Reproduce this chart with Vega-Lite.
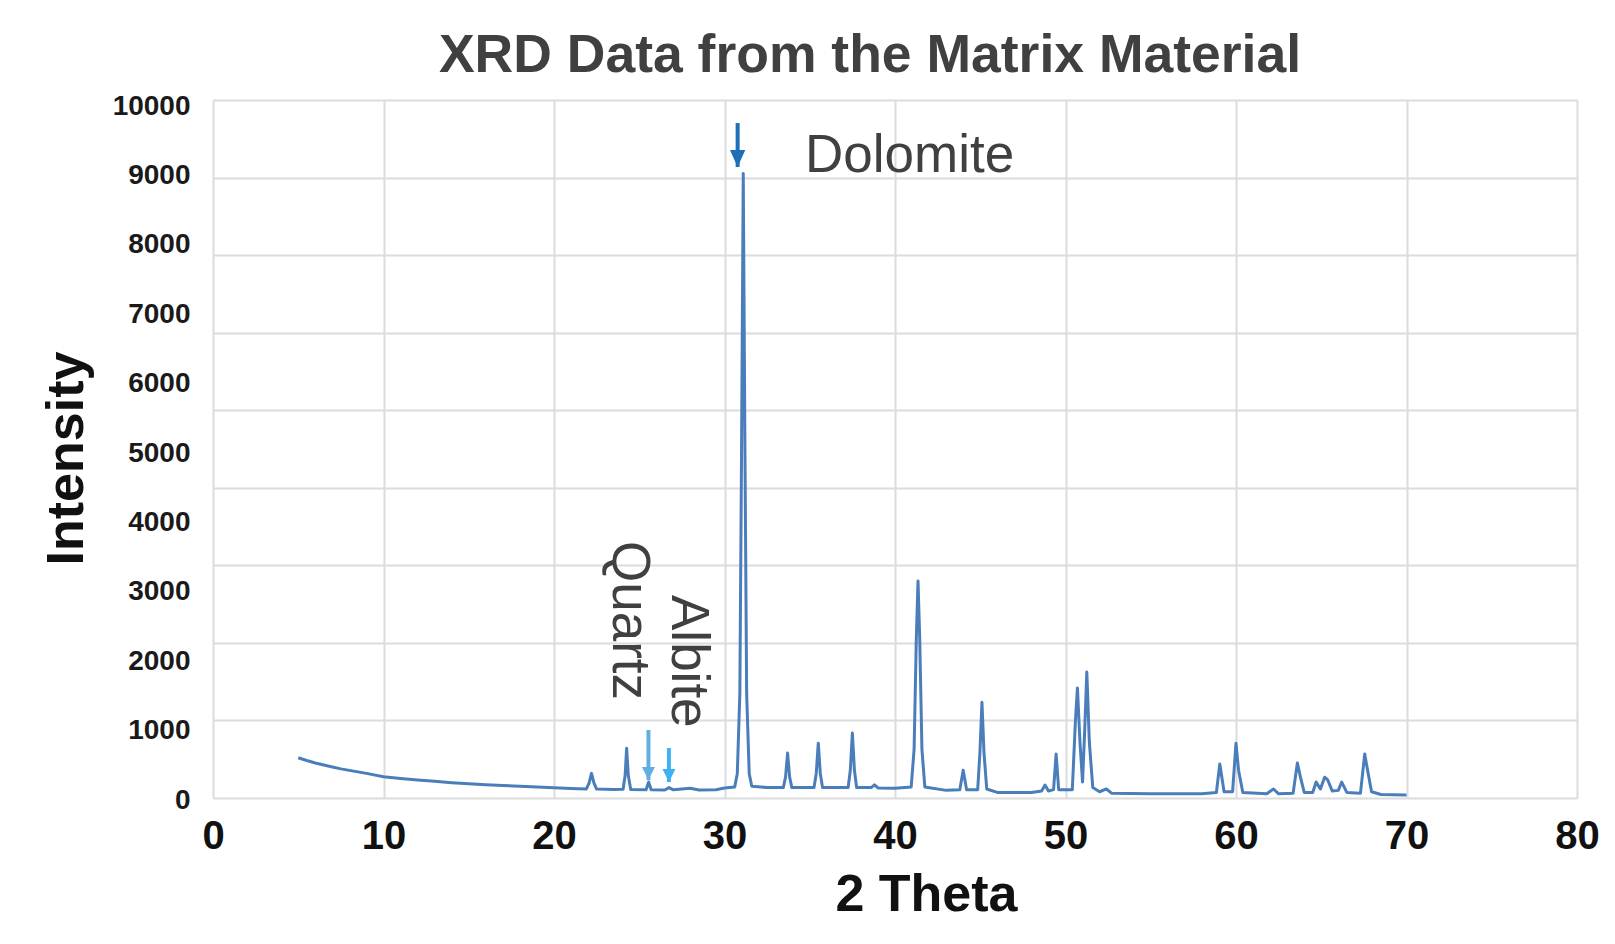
{
  "$schema": "https://vega.github.io/schema/vega-lite/v6.json",
  "width": 1364,
  "height": 698,
  "autosize": {"type": "none"},
  "padding": {"left": 213, "top": 100, "right": 38, "bottom": 146},
  "background": "white",
  "config": {"font": "Liberation Sans", "view": {"stroke": null}},
  "title": {
    "text": "XRD Data from the Matrix Material",
    "fontSize": 53.5,
    "fontWeight": "bold",
    "color": "#404040",
    "anchor": "middle",
    "frame": "group",
    "dx": -25,
    "baseline": "alphabetic",
    "offset": -33
  },
  "datasets": {
    "xrd": [
      {"theta": 5.0, "intensity": 580}, {"theta": 5.5, "intensity": 540}, {"theta": 6.0, "intensity": 505},
      {"theta": 6.5, "intensity": 475}, {"theta": 7.0, "intensity": 447}, {"theta": 7.5, "intensity": 420},
      {"theta": 8.0, "intensity": 398}, {"theta": 9.0, "intensity": 355}, {"theta": 10.0, "intensity": 307},
      {"theta": 11.0, "intensity": 280}, {"theta": 12.0, "intensity": 258}, {"theta": 13.0, "intensity": 240},
      {"theta": 14.0, "intensity": 220}, {"theta": 15.0, "intensity": 205}, {"theta": 16.0, "intensity": 192},
      {"theta": 17.0, "intensity": 180}, {"theta": 18.0, "intensity": 170}, {"theta": 19.0, "intensity": 158},
      {"theta": 20.0, "intensity": 148}, {"theta": 21.0, "intensity": 138}, {"theta": 21.9, "intensity": 130},
      {"theta": 22.05, "intensity": 210}, {"theta": 22.2, "intensity": 356}, {"theta": 22.35, "intensity": 210},
      {"theta": 22.5, "intensity": 128}, {"theta": 23.5, "intensity": 122}, {"theta": 24.05, "intensity": 125},
      {"theta": 24.17, "intensity": 320}, {"theta": 24.26, "intensity": 716}, {"theta": 24.36, "intensity": 320},
      {"theta": 24.5, "intensity": 122}, {"theta": 25.4, "intensity": 118}, {"theta": 25.55, "intensity": 230},
      {"theta": 25.7, "intensity": 118}, {"theta": 26.5, "intensity": 115}, {"theta": 26.75, "intensity": 150},
      {"theta": 27.0, "intensity": 118}, {"theta": 28.0, "intensity": 140}, {"theta": 28.5, "intensity": 115},
      {"theta": 29.5, "intensity": 120}, {"theta": 30.0, "intensity": 144}, {"theta": 30.6, "intensity": 160},
      {"theta": 30.75, "intensity": 350}, {"theta": 30.9, "intensity": 1500}, {"theta": 31.0, "intensity": 5000},
      {"theta": 31.1, "intensity": 9000}, {"theta": 31.2, "intensity": 5000}, {"theta": 31.3, "intensity": 1500},
      {"theta": 31.45, "intensity": 350}, {"theta": 31.6, "intensity": 170}, {"theta": 32.5, "intensity": 150},
      {"theta": 33.45, "intensity": 150}, {"theta": 33.58, "intensity": 300}, {"theta": 33.7, "intensity": 648},
      {"theta": 33.82, "intensity": 300}, {"theta": 33.95, "intensity": 150}, {"theta": 35.25, "intensity": 150},
      {"theta": 35.38, "intensity": 350}, {"theta": 35.5, "intensity": 790}, {"theta": 35.62, "intensity": 350},
      {"theta": 35.75, "intensity": 150}, {"theta": 37.25, "intensity": 150}, {"theta": 37.38, "intensity": 400},
      {"theta": 37.5, "intensity": 935}, {"theta": 37.62, "intensity": 400}, {"theta": 37.75, "intensity": 150},
      {"theta": 38.6, "intensity": 150}, {"theta": 38.8, "intensity": 190}, {"theta": 39.0, "intensity": 145},
      {"theta": 40.0, "intensity": 140}, {"theta": 40.95, "intensity": 160}, {"theta": 41.12, "intensity": 700},
      {"theta": 41.25, "intensity": 2300}, {"theta": 41.35, "intensity": 3127}, {"theta": 41.45, "intensity": 2300},
      {"theta": 41.58, "intensity": 700}, {"theta": 41.75, "intensity": 160}, {"theta": 43.0, "intensity": 110},
      {"theta": 43.8, "intensity": 120}, {"theta": 44.0, "intensity": 400}, {"theta": 44.2, "intensity": 120},
      {"theta": 44.85, "intensity": 120}, {"theta": 44.98, "intensity": 650}, {"theta": 45.1, "intensity": 1380},
      {"theta": 45.22, "intensity": 650}, {"theta": 45.38, "intensity": 130}, {"theta": 46.0, "intensity": 80},
      {"theta": 48.0, "intensity": 80}, {"theta": 48.6, "intensity": 100}, {"theta": 48.8, "intensity": 187},
      {"theta": 49.0, "intensity": 100}, {"theta": 49.3, "intensity": 120}, {"theta": 49.45, "intensity": 634},
      {"theta": 49.6, "intensity": 120}, {"theta": 50.4, "intensity": 120}, {"theta": 50.58, "intensity": 1100},
      {"theta": 50.7, "intensity": 1585}, {"theta": 50.85, "intensity": 800}, {"theta": 51.0, "intensity": 230},
      {"theta": 51.13, "intensity": 1000}, {"theta": 51.25, "intensity": 1815}, {"theta": 51.4, "intensity": 800},
      {"theta": 51.6, "intensity": 150}, {"theta": 52.0, "intensity": 90}, {"theta": 52.4, "intensity": 130},
      {"theta": 52.7, "intensity": 70}, {"theta": 55.0, "intensity": 60}, {"theta": 58.0, "intensity": 60},
      {"theta": 58.85, "intensity": 80}, {"theta": 59.05, "intensity": 490}, {"theta": 59.3, "intensity": 90},
      {"theta": 59.8, "intensity": 90}, {"theta": 60.0, "intensity": 790}, {"theta": 60.15, "intensity": 400},
      {"theta": 60.4, "intensity": 80}, {"theta": 61.8, "intensity": 60}, {"theta": 62.2, "intensity": 130},
      {"theta": 62.5, "intensity": 60}, {"theta": 63.35, "intensity": 70}, {"theta": 63.6, "intensity": 504},
      {"theta": 63.78, "intensity": 300}, {"theta": 64.0, "intensity": 80}, {"theta": 64.5, "intensity": 80},
      {"theta": 64.7, "intensity": 230}, {"theta": 64.95, "intensity": 130}, {"theta": 65.2, "intensity": 300},
      {"theta": 65.38, "intensity": 260}, {"theta": 65.65, "intensity": 100}, {"theta": 66.0, "intensity": 110},
      {"theta": 66.2, "intensity": 230}, {"theta": 66.5, "intensity": 80}, {"theta": 67.3, "intensity": 70},
      {"theta": 67.55, "intensity": 634}, {"theta": 67.72, "intensity": 395}, {"theta": 67.95, "intensity": 90},
      {"theta": 68.5, "intensity": 50}, {"theta": 70.0, "intensity": 43}
    ],
    "arrows": [
      {"mineral": "Dolomite", "theta": 30.77, "top": 9726, "tip": 9092},
      {"mineral": "Quartz", "theta": 25.54, "top": 980, "tip": 259},
      {"mineral": "Albite", "theta": 26.74, "top": 720, "tip": 230}
    ],
    "labels": [
      {"mineral": "Dolomite", "theta": 34.72, "intensity": 9020},
      {"mineral": "Quartz", "theta": 23.45, "intensity": 3703},
      {"mineral": "Albite", "theta": 26.92, "intensity": 2925}
    ]
  },
  "layer": [
    {
      "data": {"values": [{}]},
      "mark": {"type": "point", "opacity": 0},
      "encoding": {
        "y": {
          "datum": 0,
          "type": "quantitative",
          "scale": {"domain": [0, 9], "nice": false, "zero": false},
          "axis": {
            "orient": "right",
            "values": [0, 1, 2, 3, 4, 5, 6, 7, 8, 9],
            "grid": true,
            "gridColor": "#dcdcdc",
            "gridWidth": 2,
            "labels": false,
            "ticks": false,
            "domain": false,
            "title": null,
            "zindex": 0
          }
        }
      }
    },
    {
      "layer": [
        {
          "data": {"name": "xrd"},
          "mark": {"type": "line", "color": "#4a7ebb", "strokeWidth": 3, "strokeJoin": "round"},
          "encoding": {
            "x": {
              "field": "theta",
              "type": "quantitative",
              "scale": {"domain": [0, 80], "nice": false, "zero": false},
              "axis": {
                "values": [0, 10, 20, 30, 40, 50, 60, 70, 80],
                "grid": true,
                "gridColor": "#dcdcdc",
                "gridWidth": 2,
                "domain": false,
                "ticks": false,
                "labelFont": "Liberation Sans",
                "labelFontSize": 40,
                "labelFontWeight": "bold",
                "labelColor": "#111111",
                "labelPadding": 18,
                "labelFlush": false,
                "title": "2 Theta",
                "titleFont": "Liberation Sans",
                "titleFontSize": 52,
                "titleFontWeight": "bold",
                "titleColor": "#111111",
                "titleX": 713,
                "titleY": 112,
                "titleBaseline": "alphabetic",
                "titleAlign": "center",
                "zindex": 0
              }
            },
            "y": {
              "field": "intensity",
              "type": "quantitative",
              "scale": {"domain": [0, 10058], "nice": false, "zero": false},
              "axis": {
                "orient": "left",
                "values": [0, 1000, 2000, 3000, 4000, 5000, 6000, 7000, 8000, 9000, 10000],
                "format": "d",
                "grid": false,
                "domain": false,
                "ticks": false,
                "labelFont": "Liberation Sans",
                "labelFontSize": 28,
                "labelFontWeight": "bold",
                "labelColor": "#1a1a1a",
                "labelPadding": 23,
                "labelOffset": 2,
                "labelFlush": false,
                "title": "Intensity",
                "titleFont": "Liberation Sans",
                "titleFontSize": 52,
                "titleFontWeight": "bold",
                "titleColor": "#111111",
                "titleAngle": -90,
                "titleX": -131,
                "titleY": 358,
                "titleBaseline": "alphabetic",
                "titleAlign": "center",
                "zindex": 0
              }
            }
          }
        },
        {
          "data": {"name": "arrows"},
          "mark": {"type": "rule", "strokeWidth": 4},
          "encoding": {
            "x": {"field": "theta", "type": "quantitative", "scale": {"domain": [0, 80], "nice": false, "zero": false}},
            "y": {"field": "top", "type": "quantitative", "scale": {"domain": [0, 10058], "nice": false, "zero": false}},
            "y2": {"field": "tip"},
            "color": {
              "field": "mineral",
              "type": "nominal",
              "scale": {"domain": ["Dolomite", "Quartz", "Albite"], "range": ["#1f6fb8", "#62aee3", "#3db1f2"]},
              "legend": null
            }
          }
        },
        {
          "data": {"name": "arrows"},
          "transform": [{"filter": "datum.mineral === 'Dolomite'"}],
          "mark": {"type": "point", "shape": "M-0.45,-1L0.45,-1L0,0Z", "size": 1156, "filled": true, "opacity": 1, "strokeWidth": 0},
          "encoding": {
            "x": {"field": "theta", "type": "quantitative", "scale": {"domain": [0, 80], "nice": false, "zero": false}},
            "y": {"field": "tip", "type": "quantitative", "scale": {"domain": [0, 10058], "nice": false, "zero": false}},
            "color": {"field": "mineral", "type": "nominal", "legend": null}
          }
        },
        {
          "data": {"name": "arrows"},
          "transform": [{"filter": "datum.mineral !== 'Dolomite'"}],
          "mark": {"type": "point", "shape": "M-0.5,-1L0.5,-1L0,0Z", "size": 676, "filled": true, "opacity": 1, "strokeWidth": 0},
          "encoding": {
            "x": {"field": "theta", "type": "quantitative", "scale": {"domain": [0, 80], "nice": false, "zero": false}},
            "y": {"field": "tip", "type": "quantitative", "scale": {"domain": [0, 10058], "nice": false, "zero": false}},
            "color": {"field": "mineral", "type": "nominal", "legend": null}
          }
        },
        {
          "data": {"name": "labels"},
          "transform": [{"filter": "datum.mineral === 'Dolomite'"}],
          "mark": {"type": "text", "font": "Liberation Sans", "fontSize": 53, "color": "#404040", "align": "left", "baseline": "alphabetic"},
          "encoding": {
            "x": {"field": "theta", "type": "quantitative", "scale": {"domain": [0, 80], "nice": false, "zero": false}},
            "y": {"field": "intensity", "type": "quantitative", "scale": {"domain": [0, 10058], "nice": false, "zero": false}},
            "text": {"field": "mineral"}
          }
        },
        {
          "data": {"name": "labels"},
          "transform": [{"filter": "datum.mineral !== 'Dolomite'"}],
          "mark": {"type": "text", "font": "Liberation Sans", "fontSize": 53, "color": "#404040", "align": "left", "baseline": "alphabetic", "angle": 90},
          "encoding": {
            "x": {"field": "theta", "type": "quantitative", "scale": {"domain": [0, 80], "nice": false, "zero": false}},
            "y": {"field": "intensity", "type": "quantitative", "scale": {"domain": [0, 10058], "nice": false, "zero": false}},
            "text": {"field": "mineral"}
          }
        }
      ]
    }
  ],
  "resolve": {"scale": {"y": "independent"}, "axis": {"y": "independent"}}
}
